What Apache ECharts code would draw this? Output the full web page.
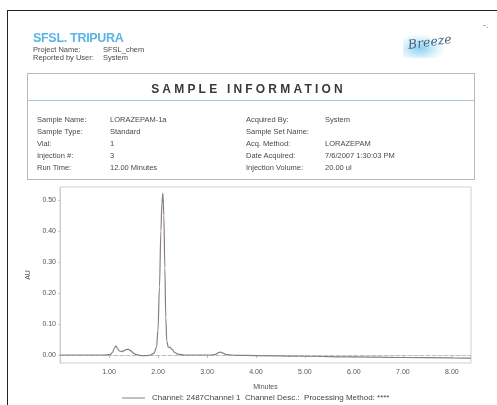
<!DOCTYPE html>
<html>
<head>
<meta charset="utf-8">
<script src="https://cdn.jsdelivr.net/npm/echarts@6/dist/echarts.min.js"></script>
<style>
  html, body { margin:0; padding:0; background:#fff; }
  #page { position:relative; width:497px; height:405px; overflow:hidden; background:#fff; font-family:"Liberation Sans", Arial, sans-serif; }
  #chart { position:absolute; left:0; top:0; width:497px; height:405px; }
  .t { position:absolute; font-size:7.5px; color:#4a4a4a; white-space:nowrap; line-height:1; }
  #frameTop { position:absolute; left:7px; top:10px; width:490px; height:0; border-top:1.6px solid #222; }
  #frameLeft { position:absolute; left:7px; top:10px; width:0; height:395px; border-left:1.6px solid #222; }
  #org { position:absolute; left:33px; top:31px; font-size:12.5px; font-weight:bold; color:#5ab4e4; letter-spacing:-0.3px; }
  #box { position:absolute; left:27px; top:73px; width:446px; height:105px; border:1px solid #b8b8b8; }
  #boxSep { position:absolute; left:27px; top:100px; width:447px; height:0; border-top:1.2px solid #a8cbe2; }
  #title { position:absolute; left:0; width:497px; top:82px; text-align:center; font-size:12px; font-weight:bold; color:#3a3a3a; letter-spacing:3.2px; }
  #breeze { position:absolute; left:403px; top:34px; width:42px; height:24px; background:radial-gradient(ellipse at 40% 60%, rgba(90,190,235,0.7) 0%, rgba(130,210,240,0.3) 45%, rgba(255,255,255,0) 72%); }
  #breezeT { position:absolute; left:409px; top:37px; font-family:"DejaVu Serif", serif; font-style:italic; font-size:12.5px; color:#48607e; transform:rotate(-8deg); transform-origin:left bottom; }
  #mark { position:absolute; left:483px; top:20px; font-size:9px; color:#777; }
</style>
</head>
<body>
<div id="page">
  <div id="chart"></div>
  <div id="frameTop"></div>
  <div id="frameLeft"></div>
  <div id="org">SFSL. TRIPURA</div>
  <div class="t" style="left:33px;top:46px">Project Name:</div>
  <div class="t" style="left:103px;top:46px">SFSL_chem</div>
  <div class="t" style="left:33px;top:54px">Reported by User:</div>
  <div class="t" style="left:103px;top:54px">System</div>
  <div id="breeze"></div>
  <div id="breezeT">Breeze</div>
  <div id="mark">-.</div>
  <div id="box"></div>
  <div id="boxSep"></div>
  <div id="title">SAMPLE INFORMATION</div>
  <div class="t" style="left:37px;top:116px">Sample Name:</div>
  <div class="t" style="left:110px;top:116px">LORAZEPAM-1a</div>
  <div class="t" style="left:37px;top:128px">Sample Type:</div>
  <div class="t" style="left:110px;top:128px">Standard</div>
  <div class="t" style="left:37px;top:140px">Vial:</div>
  <div class="t" style="left:110px;top:140px">1</div>
  <div class="t" style="left:37px;top:152px">Injection #:</div>
  <div class="t" style="left:110px;top:152px">3</div>
  <div class="t" style="left:37px;top:164px">Run Time:</div>
  <div class="t" style="left:110px;top:164px">12.00 Minutes</div>
  <div class="t" style="left:246px;top:116px">Acquired By:</div>
  <div class="t" style="left:325px;top:116px">System</div>
  <div class="t" style="left:246px;top:128px">Sample Set Name:</div>
  <div class="t" style="left:246px;top:140px">Acq. Method:</div>
  <div class="t" style="left:325px;top:140px">LORAZEPAM</div>
  <div class="t" style="left:246px;top:152px">Date Acquired:</div>
  <div class="t" style="left:325px;top:152px">7/6/2007 1:30:03 PM</div>
  <div class="t" style="left:246px;top:164px">Injection Volume:</div>
  <div class="t" style="left:325px;top:164px">20.00 ul</div>
</div>
<script>
// ---- data ----
const timeMin = [0.00,0.30,0.60,0.90,1.02,1.07,1.11,1.14,1.17,1.21,1.26,1.31,1.36,1.40,1.45,1.50,1.56,1.65,1.75,1.85,1.92,1.97,2.00,2.03,2.06,2.08,2.10,2.12,2.14,2.16,2.18,2.21,2.25,2.29,2.34,2.42,2.55,2.80,3.10,3.18,3.24,3.28,3.33,3.40,3.60,4.00,5.00,6.00,7.00,8.00,8.39];
const auValues = [0.000,0.000,0.000,0.000,0.001,0.008,0.022,0.029,0.022,0.013,0.011,0.014,0.018,0.018,0.013,0.006,0.001,-0.002,-0.002,0.000,0.006,0.025,0.080,0.220,0.400,0.490,0.522,0.450,0.280,0.120,0.045,0.025,0.024,0.018,0.008,0.002,0.000,0.000,0.000,0.002,0.008,0.009,0.006,0.001,-0.001,-0.002,-0.004,-0.006,-0.008,-0.009,-0.010];
const xTickValues = [1,2,3,4,5,6,7,8];
const yTickValues = [0,0.1,0.2,0.3,0.4,0.5];
const seriesName = 'Channel: 2487Channel 1  Channel Desc.:  Processing Method: ****';

const chart = echarts.init(document.getElementById('chart'), null, {renderer:'canvas'});
const pts = timeMin.map((t,i)=>[t, auValues[i]]);
chart.setOption({
  animation:false,
  backgroundColor:'transparent',
  textStyle:{fontFamily:'Liberation Sans, Arial, sans-serif'},
  grid:{left:60, right:26, top:187, bottom:42, show:true, borderColor:'#cfcfcf', borderWidth:1, backgroundColor:'transparent'},
  legend:{
    left:117, top:389, itemWidth:23, itemHeight:8, itemGap:0,
    icon:'path://M0,4L23,4L23,5L0,5Z',
    textStyle:{fontSize:8, color:'#444', padding:[0,0,0,2]},
    data:[{name:seriesName, itemStyle:{color:'#8a7f7a'}}]
  },
  xAxis:{
    type:'value', min:0, max:8.39,
    name:'Minutes', nameLocation:'middle', nameGap:21,
    nameTextStyle:{fontSize:7, color:'#555'},
    axisLine:{show:true, lineStyle:{color:'#bdbdbd', type:'dashed', width:1}},
    axisTick:{show:true, customValues:xTickValues, length:3, lineStyle:{color:'#bdbdbd'}},
    axisLabel:{customValues:xTickValues, fontSize:7, color:'#555', margin:6, formatter:v=>v.toFixed(2)},
    splitLine:{show:false}
  },
  yAxis:{
    type:'value', min:-0.0258, max:0.542,
    name:'AU', nameLocation:'middle', nameGap:24, nameRotate:90,
    nameTextStyle:{fontSize:7, color:'#555'},
    axisLine:{show:true, lineStyle:{color:'#c8c8c8', type:'dotted', width:1}},
    axisTick:{show:true, customValues:yTickValues, length:2, lineStyle:{color:'#c8c8c8'}},
    axisLabel:{customValues:yTickValues, fontSize:7, color:'#555', margin:4, formatter:v=>v.toFixed(2)},
    splitLine:{show:false}
  },
  series:[{
    name:seriesName, type:'line', data:pts, symbol:'none',
    smooth:0.35, smoothMonotone:'x',
    lineStyle:{color:'#8a7f7a', width:1.2}
  }]
});
</script>
</body>
</html>
